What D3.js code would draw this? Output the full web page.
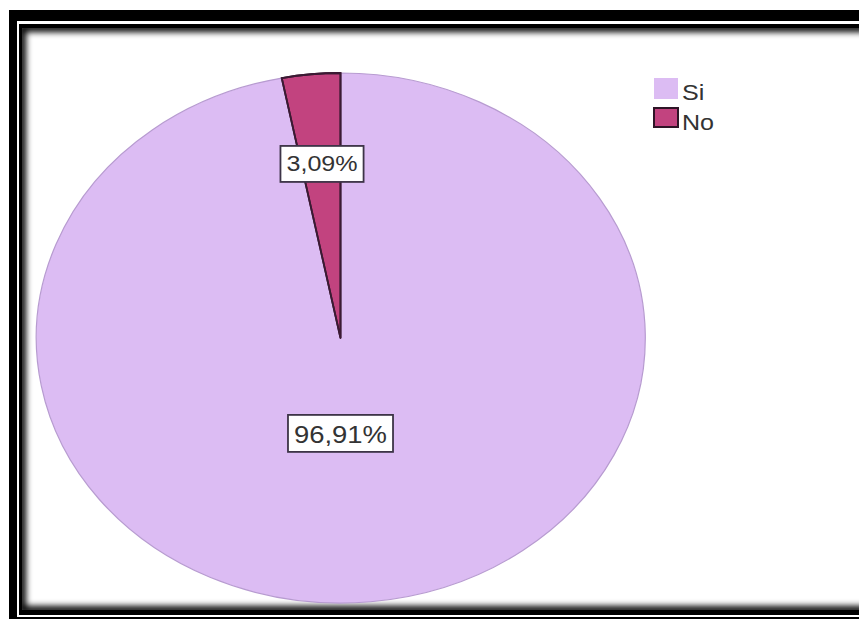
<!DOCTYPE html>
<html lang="es">
<head>
    <meta charset="UTF-8">
    <title>Si / No</title>
    <script src="https://cdn.jsdelivr.net/npm/d3@7/dist/d3.min.js"></script>
    <style>
        body { margin: 0; background: #fff; }
        svg { display: block; }
    </style>
</head>
<body>
<script>
    // datos del grafico
    var categories = ["Si", "No"];
    var values = [96.91, 3.09];
    var labels = ["96,91%", "3,09%"];
    var colors = ["#dcbcf3", "#c2437f"];
    var edges = ["#b79bd0", "#3b1a33"];

    var width = 859, height = 621;
    var cx = 340.5, cy = 338, rx = 304.5, ry = 265;
    var stretch = 1.14;   // la imagen original esta estirada en horizontal

    var svg = d3.select("body").append("svg")
        .attr("width", width)
        .attr("height", height);

    var defs = svg.append("defs");
    defs.append("clipPath").attr("id", "inner")
        .append("rect").attr("x", 22).attr("y", 28).attr("width", 860).attr("height", 582);
    var f = defs.append("filter").attr("id", "blur")
        .attr("x", "-5%").attr("y", "-5%").attr("width", "110%").attr("height", "110%");
    f.append("feGaussianBlur").attr("stdDeviation", 3);

    // marco
    svg.append("rect").attr("x", 9).attr("y", 10).attr("width", 870).attr("height", 609).attr("fill", "#000");
    svg.append("rect").attr("x", 17).attr("y", 21).attr("width", 870).attr("height", 596).attr("fill", "#fff");
    svg.append("rect").attr("x", 19).attr("y", 24).attr("width", 870).attr("height", 591).attr("fill", "#000");
    svg.append("rect").attr("x", 22).attr("y", 28).attr("width", 860).attr("height", 582).attr("fill", "#fff");
    svg.append("rect").attr("x", 22).attr("y", 28).attr("width", 860).attr("height", 582)
        .attr("fill", "none").attr("stroke", "#000").attr("stroke-width", 8)
        .attr("clip-path", "url(#inner)").attr("filter", "url(#blur)");

    // pastel (elipse)
    var pie = d3.pie().sort(null).value(function (d) { return d; });
    var arcs = pie(values);
    var arc = d3.arc().innerRadius(0).outerRadius(1);

    var g = svg.append("g").attr("transform", "translate(" + cx + "," + cy + ") scale(" + rx + "," + ry + ")");
    g.selectAll("path")
        .data(arcs)
        .enter()
        .append("path")
        .attr("d", arc)
        .attr("fill", function (d, i) { return colors[i]; })
        .attr("stroke", function (d, i) { return edges[i]; })
        .attr("stroke-width", function (d, i) { return i == 1 ? 1.8 : 1.2; })
        .attr("stroke-linejoin", "round")
        .attr("vector-effect", "non-scaling-stroke");
    // repintar borde del sector pequeno encima
    g.append("path")
        .attr("d", arc(arcs[1]))
        .attr("fill", "none")
        .attr("stroke", edges[1])
        .attr("stroke-width", 1.8)
        .attr("vector-effect", "non-scaling-stroke");

    // etiquetas
    arcs.forEach(function (d, i) {
        var big = d.value > 50;
        var x, y;
        if (big) {
            x = cx; y = cy + 0.36 * ry;
        } else {
            var c = d3.arc().innerRadius(0.66).outerRadius(0.66).centroid(d);
            x = cx + c[0] * rx + 1; y = cy + c[1] * ry;
        }
        var fs = big ? 24.5 : 22;
        var lg = svg.append("g").attr("transform", "translate(" + x + "," + y + ")");
        var tg = lg.append("g").attr("transform", "scale(" + (big ? 1.12 : stretch) + ",1)");
        var t = tg.append("text")
            .attr("text-anchor", "middle")
            .attr("dy", big ? "0.38em" : "0.3em")
            .attr("font-family", "Liberation Sans, Arial, sans-serif")
            .attr("font-size", fs)
            .attr("fill", "#333")
            .text(labels[i]);
        var w = t.node().getBBox().width * (big ? 1.12 : stretch) + 12;
        var h = big ? 37 : 36;
        lg.insert("rect", "g")
            .attr("x", -w / 2).attr("y", -h / 2)
            .attr("width", w).attr("height", h)
            .attr("fill", "#fff")
            .attr("stroke", "#3d3447")
            .attr("stroke-width", 1.8);
    });

    // leyenda
    var legend = svg.append("g").attr("transform", "translate(654,78)");
    var item = legend.selectAll("g")
        .data(categories)
        .enter()
        .append("g")
        .attr("transform", function (d, i) { return "translate(0," + (i * 30) + ")"; });
    item.append("rect")
        .attr("y", function (d, i) { return i == 1 ? 0 : 0; })
        .attr("width", 24).attr("height", function (d, i) { return i == 1 ? 19 : 21; })
        .attr("fill", function (d, i) { return colors[i]; })
        .attr("stroke", function (d, i) { return i == 1 ? "#2e1426" : "none"; })
        .attr("stroke-width", 2);
    item.append("text")
        .attr("transform", "translate(28,22) scale(" + stretch + ",1)")
        .attr("font-family", "Liberation Sans, Arial, sans-serif")
        .attr("font-size", 22)
        .attr("fill", "#333")
        .text(function (d) { return d; });
</script>
</body>
</html>
